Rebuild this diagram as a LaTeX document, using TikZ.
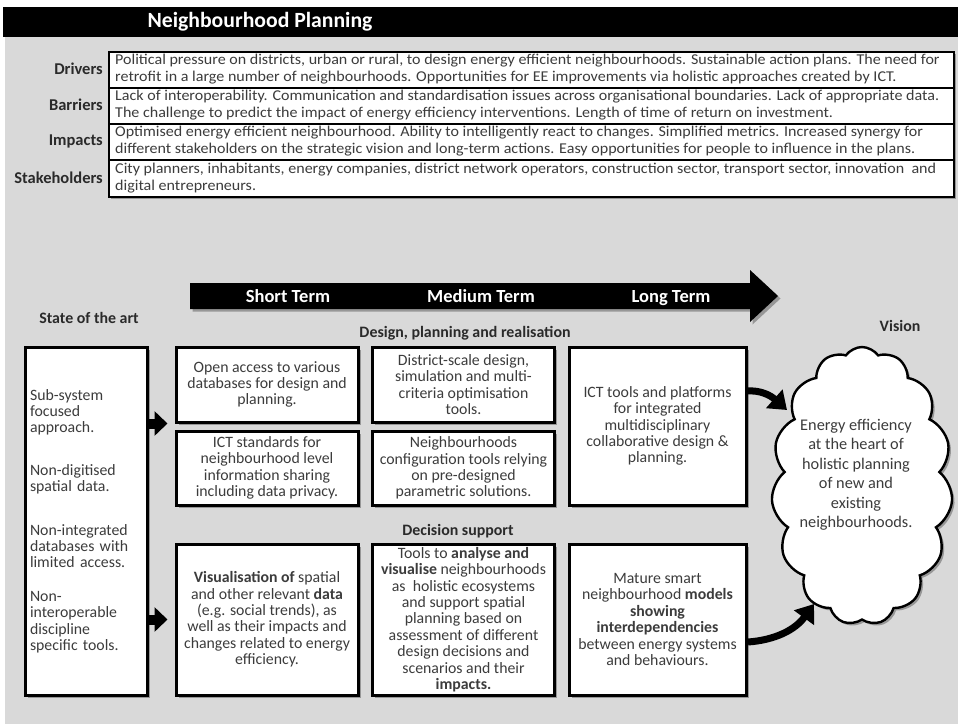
\documentclass[tikz,border=0pt]{standalone}
\usepackage{fontspec}
\setmainfont{Carlito}
\newfontfamily\tablefont[FakeStretch=1.07]{Carlito}
\usetikzlibrary{arrows.meta,shapes.symbols,shadows}
\definecolor{bg}{HTML}{D9D9D9}
\definecolor{txt}{HTML}{3C3C3C}
\definecolor{lbl}{HTML}{2A2A2A}
\begin{document}
\begin{tikzpicture}[x=1pt,y=-1pt,
  every node/.style={text=txt},
  shad/.style={drop shadow={shadow xshift=2.5pt, shadow yshift=-2.5pt, fill=black, opacity=0.3}},
  box/.style={draw=black, line width=3pt, fill=white, inner sep=0pt, align=center,
    font=\fontsize{15.8}{16.4}\selectfont, shad},
  rowbox/.style={draw=black, line width=1.8pt, fill=white, inner sep=0pt, anchor=north west,
    minimum width=845pt, shad},
  rowtext/.style={anchor=west, align=left, font=\tablefont\fontsize{15}{16.8}\selectfont, inner sep=0pt},
  rowlabel/.style={anchor=east, font=\bfseries\fontsize{16.5}{17}\selectfont, text=lbl, inner sep=0pt},
  head/.style={font=\bfseries\fontsize{15.9}{18}\selectfont, text=lbl, inner sep=0pt},
  term/.style={font=\bfseries\fontsize{18.5}{20}\selectfont, text=white, inner sep=0pt, anchor=base},
  blockarr/.style={line width=10pt, -{Triangle[length=13pt,width=24pt]}, shorten >=7pt},
  curvarr/.style={line width=7pt, -{Triangle[length=17pt,width=24pt]}},
]
\useasboundingbox (0,0) rectangle (958,724);
\fill[white] (0,0) rectangle (958,724);
\fill[bg] (5,37) rectangle (958,724);
\fill[black] (3,7) rectangle (958,37);
\node[font=\bfseries\fontsize{21.7}{24}\selectfont, text=white, inner sep=0pt] (title) at (260,22) {Neighbourhood Planning};

% table rows
\node[rowbox, minimum height=36pt] (r1) at (108,51) {};
\node[rowbox, minimum height=36pt] (r2) at (108,87) {};
\node[rowbox, minimum height=36pt] (r3) at (108,123) {};
\node[rowbox, minimum height=37pt] (r4) at (108,159) {};
\node[rowtext] (t1) at (115,69) {Political pressure on districts, urban or rural, to design energy efficient neighbourhoods. Sustainable action plans. The need for\\retrofit in a large number of neighbourhoods. Opportunities for EE improvements via holistic approaches created by ICT.};
\node[rowtext] (t2) at (115,105) {Lack of interoperability. Communication and standardisation issues across organisational boundaries. Lack of appropriate data.\\The challenge to predict the impact of energy efficiency interventions. Length of time of return on investment.};
\node[rowtext] (t3) at (115,141) {Optimised energy efficient neighbourhood. Ability to intelligently react to changes. Simplified metrics. Increased synergy for\\different stakeholders on the strategic vision and long-term actions. Easy opportunities for people to influence in the plans.};
\node[rowtext] (t4) at (115,178) {City planners, inhabitants, energy companies, district network operators, construction sector, transport sector, innovation\ \ and\\digital entrepreneurs.};
\node[rowlabel] (l1) at (103,69) {Drivers};
\node[rowlabel] (l2) at (103,105) {Barriers};
\node[rowlabel] (l3) at (103,141) {Impacts};
\node[rowlabel] (l4) at (103,178) {Stakeholders};

% time arrow
\fill[black, shad] (190,283) -- (750,283) -- (750,270) -- (778,296) -- (750,322) -- (750,309) -- (190,309) -- cycle;
\node[term] (short) at (288,302) {Short Term};
\node[term] (medium) at (481,302) {Medium Term};
\node[term] (long) at (671,302) {Long Term};

% headings
\node[head] (hstate) at (89,318) {State of the art};
\node[head] (hdesign) at (465,333) {Design, planning and realisation};
\node[head] (hdecision) at (458,531) {Decision support};
\node[head] (hvision) at (900,326) {Vision};

% state of the art
\node[box, minimum width=122pt, minimum height=348pt, align=left, text width=112pt] (state) at (86,521)
 {Sub-system\\focused\\approach.\\[26pt]Non-digitised\\spatial data.\\[27pt]Non-integrated\\databases with\\limited access.\\[17pt]Non-\\interoperable\\discipline\\specific tools.};

% short term
\node[box, minimum width=182pt, minimum height=75pt] (st1) at (267,384.5)
 {Open access to various\\databases for design and\\planning.};
\node[box, minimum width=182pt, minimum height=74pt] (st2) at (267,468)
 {ICT standards for\\neighbourhood level\\information sharing\\including data privacy.};
\node[box, minimum width=182pt, minimum height=151pt] (st3) at (267,619.5)
 {\textbf{Visualisation of} spatial\\and other relevant \textbf{data}\\(e.g. social trends), as\\well as their impacts and\\changes related to energy\\efficiency.};

% medium term
\node[box, minimum width=182pt, minimum height=75pt] (md1) at (463.5,384.5)
 {District-scale design,\\simulation and multi-\\criteria optimisation\\tools.};
\node[box, minimum width=182pt, minimum height=74pt] (md2) at (463.5,468)
 {Neighbourhoods\\configuration tools relying\\on pre-designed\\parametric solutions.};
\node[box, minimum width=182pt, minimum height=151pt] (md3) at (463.5,619.5)
 {Tools to \textbf{analyse and}\\\textbf{visualise} neighbourhoods\\as\ \ holistic ecosystems\\and support spatial\\planning based on\\assessment of different\\design decisions and\\scenarios and their\\\textbf{impacts.}};

% long term
\node[box, minimum width=177pt, minimum height=158pt] (lt1) at (657.5,426)
 {ICT tools and platforms\\for integrated\\multidisciplinary\\collaborative design \&\\planning.};
\node[box, minimum width=177pt, minimum height=151pt] (lt2) at (657.5,619.5)
 {Mature smart\\neighbourhood \textbf{models}\\\textbf{showing}\\\textbf{interdependencies}\\between energy systems\\and behaviours.};

% vision cloud
\node[cloud, draw=black, line width=2.4pt, fill=white, cloud puffs=15, cloud puff arc=110,
  cloud ignores aspect, minimum width=181pt, minimum height=278pt, shad] (vision) at (862,486) {};
\node[align=center, font=\fontsize{16.3}{19.5}\selectfont, inner sep=0pt] (vtext) at (856,475)
 {Energy efficiency\\at the heart of\\holistic planning\\of new and\\existing\\neighbourhoods.};

% connectors
\draw[blockarr] (state.east |- st1.south west) -- (st1.south west);
\draw[blockarr] (state.east |- st3.west) -- (st3.west);
\coordinate (a1s) at (747,391);
\coordinate (a1e) at (787,410);
\draw[curvarr] (a1s) .. controls (760,390) and (770,395) .. (a1e);
\coordinate (a2s) at (748,642);
\coordinate (a2e) at (814,604);
\draw[curvarr] (a2s) .. controls (775,640) and (795,630) .. (a2e);
\end{tikzpicture}
\end{document}
